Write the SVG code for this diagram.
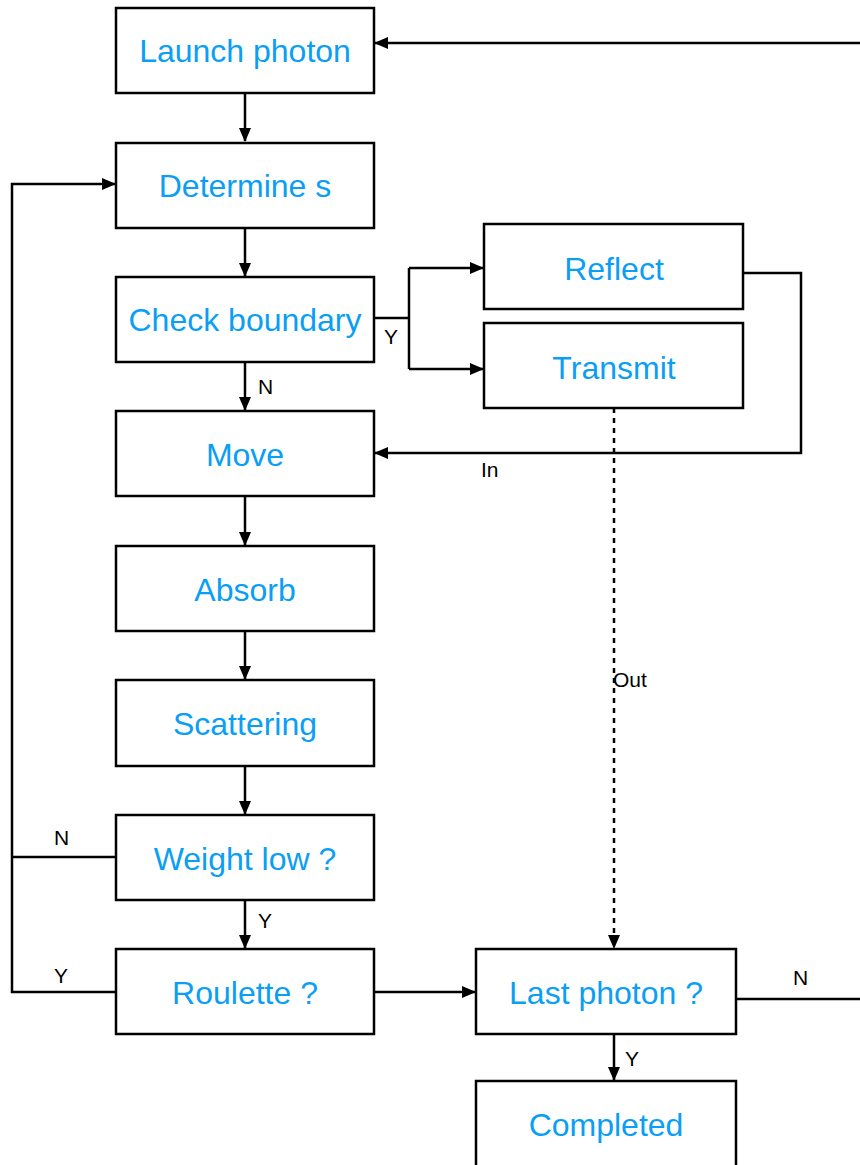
<svg xmlns="http://www.w3.org/2000/svg" width="860" height="1165" viewBox="0 0 860 1165">
<style>
.box{fill:#fff;stroke:#000;stroke-width:2.5}
.t{font-family:"Liberation Sans",Arial,sans-serif;font-size:32px;fill:#0a9ef5;text-anchor:middle}
.l{font-family:"Liberation Sans",Arial,sans-serif;font-size:21px;fill:#000}
.c{fill:none;stroke:#000;stroke-width:2.5}
.d{fill:none;stroke:#000;stroke-width:2.5;stroke-dasharray:5,5}
</style>
<defs>
<marker id="ah" markerUnits="userSpaceOnUse" markerWidth="14" markerHeight="12" refX="13" refY="6" orient="auto">
<path d="M0,0 L14,6 L0,12 z" fill="#000"/>
</marker>
</defs>
<g id="connectors">
<path class="c" d="M860,43 H375" marker-end="url(#ah)"/>
<path class="c" d="M245,93 V141" marker-end="url(#ah)"/>
<path class="c" d="M245,228 V276" marker-end="url(#ah)"/>
<path class="c" d="M374,318 H409"/>
<path class="c" d="M409,268 V369"/>
<path class="c" d="M409,268 H483" marker-end="url(#ah)"/>
<path class="c" d="M409,369 H483" marker-end="url(#ah)"/>
<path class="c" d="M245,362 V410" marker-end="url(#ah)"/>
<path class="c" d="M743,273 H801 V453 H375" marker-end="url(#ah)"/>
<path class="d" d="M614,408 V948" marker-end="url(#ah)"/>
<path class="c" d="M245,496 V545" marker-end="url(#ah)"/>
<path class="c" d="M245,631 V679" marker-end="url(#ah)"/>
<path class="c" d="M245,766 V814" marker-end="url(#ah)"/>
<path class="c" d="M245,900 V948" marker-end="url(#ah)"/>
<path class="c" d="M116,857 H12"/>
<path class="c" d="M116,992 H12 V184 H115" marker-end="url(#ah)"/>
<path class="c" d="M374,992 H475" marker-end="url(#ah)"/>
<path class="c" d="M736,999 H860"/>
<path class="c" d="M614,1034 V1080" marker-end="url(#ah)"/>
<text class="l" x="384" y="344">Y</text>
<text class="l" x="258" y="394">N</text>
<text class="l" x="481" y="477">In</text>
<text class="l" x="613" y="687">Out</text>
<text class="l" x="54" y="845">N</text>
<text class="l" x="258" y="928">Y</text>
<text class="l" x="54" y="983">Y</text>
<text class="l" x="793" y="985">N</text>
<text class="l" x="625" y="1066">Y</text>
</g>
<g id="launch"><rect class="box" x="116" y="8" width="258" height="85"/><text class="t" x="245" y="62">Launch photon</text></g>
<g id="determine"><rect class="box" x="116" y="143" width="258" height="85"/><text class="t" x="245" y="197">Determine s</text></g>
<g id="check"><rect class="box" x="116" y="277" width="258" height="85"/><text class="t" x="245" y="331">Check boundary</text></g>
<g id="reflect"><rect class="box" x="484" y="224" width="259" height="85"/><text class="t" x="614" y="280">Reflect</text></g>
<g id="transmit"><rect class="box" x="484" y="323" width="259" height="85"/><text class="t" x="614" y="379">Transmit</text></g>
<g id="move"><rect class="box" x="116" y="411" width="258" height="85"/><text class="t" x="245" y="466">Move</text></g>
<g id="absorb"><rect class="box" x="116" y="546" width="258" height="85"/><text class="t" x="245" y="601">Absorb</text></g>
<g id="scattering"><rect class="box" x="116" y="680" width="258" height="86"/><text class="t" x="245" y="735">Scattering</text></g>
<g id="weight"><rect class="box" x="116" y="815" width="258" height="85"/><text class="t" x="245" y="870">Weight low ?</text></g>
<g id="roulette"><rect class="box" x="116" y="949" width="258" height="85"/><text class="t" x="245" y="1004">Roulette ?</text></g>
<g id="last"><rect class="box" x="476" y="949" width="260" height="85"/><text class="t" x="606" y="1004">Last photon ?</text></g>
<g id="completed"><rect class="box" x="476" y="1081" width="260" height="86"/><text class="t" x="606" y="1136">Completed</text></g>
</svg>
